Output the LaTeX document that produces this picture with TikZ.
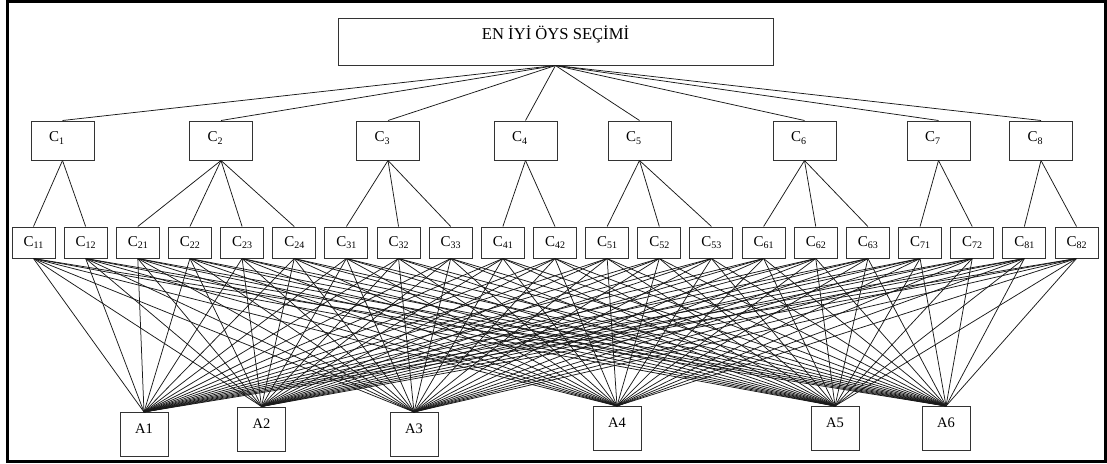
\documentclass[tikz,border=0pt]{standalone}
\usepackage{fontspec}
\setmainfont{Liberation Serif}
\newcommand\sbs[1]{\raisebox{-2.5pt}{\fontsize{10}{10}\selectfont #1}}
\begin{document}
\begin{tikzpicture}[x=1pt,y=-1pt,
  box/.style={draw=black!80, line width=1pt, inner sep=0pt},
  topbox/.style={box, minimum width=435pt, minimum height=47pt, text height=12pt, text depth=17pt, font=\fontsize{16.6}{16.6}\selectfont},
  cbox/.style={box, minimum width=63pt, minimum height=39pt, text width=27pt, align=left, inner xsep=18pt, text height=11pt, text depth=8.6pt, font=\fontsize{15}{15}\selectfont},
  sbox/.style={box, minimum width=43pt, minimum height=31pt, text height=11pt, text depth=4pt, font=\fontsize{15}{15}\selectfont},
  abox/.style={box, minimum width=48pt, minimum height=44pt, text height=10pt, text depth=12pt, font=\fontsize{14.5}{14.5}\selectfont},
  link/.style={draw=black!90, line width=0.75pt}]
\useasboundingbox (0,0) rectangle (1107,463);
\draw[line width=3.4pt] (7.4,1.5) rectangle (1105.5,461.4);

\node[topbox] (top) at (555.5,41.5) {EN İYİ ÖYS SEÇİMİ};

\foreach \n/\x in {1/62.5,2/221,3/388,4/525.5,5/639.5,6/804.5,7/938.5,8/1041}
  \node[cbox] (C\n) at (\x,140.5) {C\sbs{\n}};

\foreach \n [count=\i from 0] in {11,12,21,22,23,24,31,32,33,41,42,51,52,53,61,62,63,71,72,81,82}
  \node[sbox] (S\n) at ({33.5+52.15*\i},242.5) {C\sbs{\n}};

\node[abox] (A1) at (144,434.5) {A1};
\node[abox] (A2) at (261.5,429) {A2};
\node[abox] (A3) at (414,434.5) {A3};
\node[abox] (A4) at (617,428.5) {A4};
\node[abox] (A5) at (835,428.5) {A5};
\node[abox] (A6) at (946,428.5) {A6};

\foreach \n in {1,...,8}
  \draw[link] (top.south) -- (C\n.north);

\foreach \p/\l in {1/{11,12},2/{21,22,23,24},3/{31,32,33},4/{41,42},5/{51,52,53},6/{61,62,63},7/{71,72},8/{81,82}}
  \foreach \s in \l
    \draw[link] (C\p.south) -- (S\s.north);

\foreach \s in {11,12,21,22,23,24,31,32,33,41,42,51,52,53,61,62,63,71,72,81,82}
  \foreach \a in {1,...,6}
    \draw[link] (S\s.south) -- (A\a.north);
\end{tikzpicture}
\end{document}
